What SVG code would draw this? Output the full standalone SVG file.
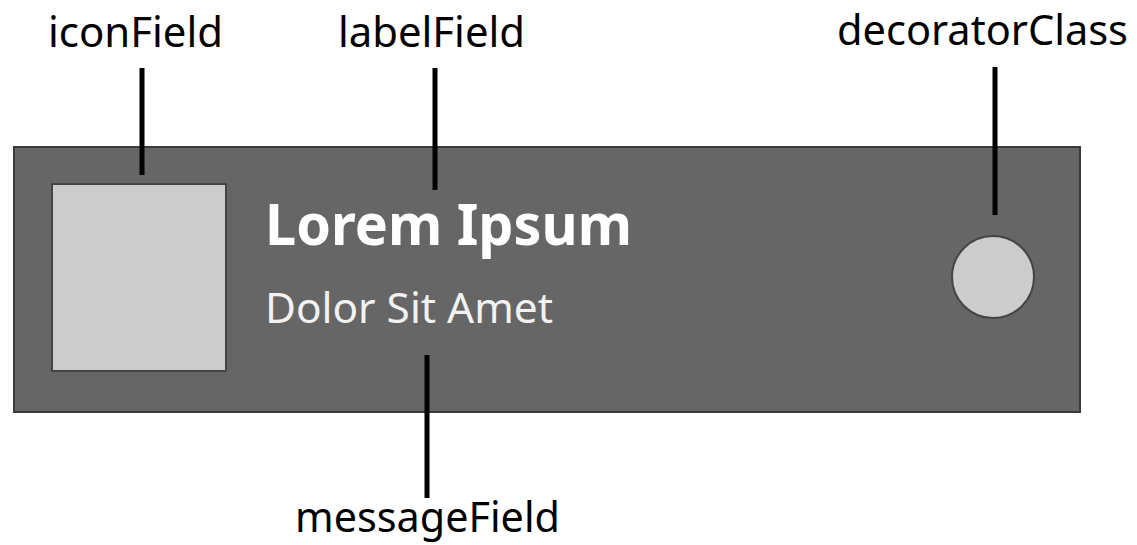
<svg xmlns="http://www.w3.org/2000/svg" width="1137" height="545" viewBox="0 0 1137 545">
<style>
.lbl{font-family:"Noto Sans","Open Sans",sans-serif;font-size:41px;fill:#000}
.lead{stroke:#000;stroke-width:5;fill:none}
.shape{fill:#cccccc;stroke:#444444;stroke-width:2}
</style>
<rect width="1137" height="545" fill="#ffffff"/>
<g id="card">
<rect x="14" y="147" width="1066" height="265" fill="#666666" stroke="#3a3a3a" stroke-width="2"/>
</g>
<g id="icon">
<rect class="shape" x="52" y="184" width="174" height="187"/>
</g>
<g id="label">
<text x="265" y="245" font-family="'Noto Sans','Open Sans',sans-serif" font-weight="bold" font-size="57" fill="#ffffff" textLength="367" lengthAdjust="spacingAndGlyphs">Lorem Ipsum</text>
</g>
<g id="message">
<text x="265" y="323" font-family="'Noto Sans','Open Sans',sans-serif" font-size="42" fill="#f2f2f2" textLength="288" lengthAdjust="spacingAndGlyphs">Dolor Sit Amet</text>
</g>
<g id="decorator">
<circle class="shape" cx="993" cy="277" r="41"/>
</g>
<g id="connectors">
<line class="lead" x1="142" y1="68" x2="142" y2="175"/>
<line class="lead" x1="435" y1="68" x2="435" y2="190"/>
<line class="lead" x1="995" y1="67" x2="995" y2="215"/>
<line class="lead" x1="427" y1="355" x2="427" y2="498"/>
</g>
<g id="labels">
<text class="lbl" x="48" y="47" textLength="175" lengthAdjust="spacingAndGlyphs">iconField</text>
<text class="lbl" x="338" y="47" textLength="187" lengthAdjust="spacingAndGlyphs">labelField</text>
<text class="lbl" x="837" y="45" textLength="291" lengthAdjust="spacingAndGlyphs">decoratorClass</text>
<text class="lbl" x="295" y="532" textLength="265" lengthAdjust="spacingAndGlyphs">messageField</text>
</g>
</svg>
